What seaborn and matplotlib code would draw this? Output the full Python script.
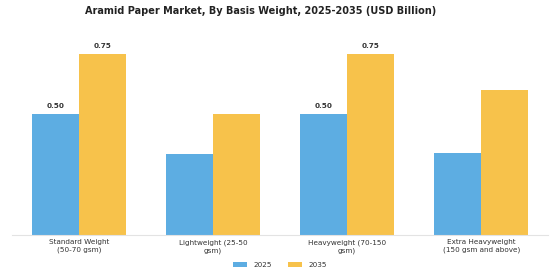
import pandas as pd
import matplotlib
matplotlib.use("Agg")
import matplotlib.pyplot as plt
import seaborn as sns

# Chart data
categories = ["Standard Weight\n(50-70 gsm)", "Lightweight (25-50\ngsm)",
              "Heavyweight (70-150\ngsm)", "Extra Heavyweight\n(150 gsm and above)"]
years = ["2025", "2035"]
values_2025 = [0.50, 0.335, 0.50, 0.34]
values_2035 = [0.75, 0.50, 0.75, 0.60]
labels_2025 = ["0.50", "", "0.50", ""]
labels_2035 = ["0.75", "", "0.75", ""]

df = pd.DataFrame({
    "Segment": categories * 2,
    "Year": [years[0]] * 4 + [years[1]] * 4,
    "Value": values_2025 + values_2035,
})

sns.set_style("white")
plt.rcParams['font.family'] = ['DejaVu Sans']

fig = plt.figure(figsize=(5.6, 2.8), dpi=100)
ax = fig.add_axes([0.021, 0.161, 0.958, 0.732])

sns.barplot(data=df, x="Segment", y="Value", hue="Year",
            palette=["#5DADE2", "#F7C24B"], width=0.7, gap=0,
            saturation=1, linewidth=0, errorbar=None, ax=ax)

for cont, labs in zip(ax.containers, [labels_2025, labels_2035]):
    ax.bar_label(cont, labels=labs, padding=3.5, fontsize=5.2,
                 fontweight="bold", color="#333333")

ax.set_xlim(-0.5, 3.5)
ax.set_ylim(0, 0.85)
ax.set_xlabel("")
ax.set_ylabel("")
ax.set_yticks([])
for s in ["top", "right", "left"]:
    ax.spines[s].set_visible(False)
ax.spines["bottom"].set_color("#e3e3e3")
ax.spines["bottom"].set_linewidth(0.8)
ax.tick_params(axis="x", labelsize=5.2, colors="#333333", length=0, pad=3)
for t in ax.get_xticklabels():
    t.set_linespacing(1.35)

ax.legend_.remove()
handles, lbls = ax.get_legend_handles_labels()
fig.legend(handles, lbls, loc="center", bbox_to_anchor=(0.5, 0.053), ncol=2,
           frameon=False, fontsize=5.2, handlelength=1.95, handleheight=0.55,
           handletextpad=1.0, columnspacing=2.1, labelcolor="#333333")

fig.text(0.466, 0.961, "Aramid Paper Market, By Basis Weight, 2025-2035 (USD Billion)",
         fontsize=7, fontweight="bold", color="#222222", ha="center", va="center")

fig.savefig("out.png", dpi=100, facecolor="white")
